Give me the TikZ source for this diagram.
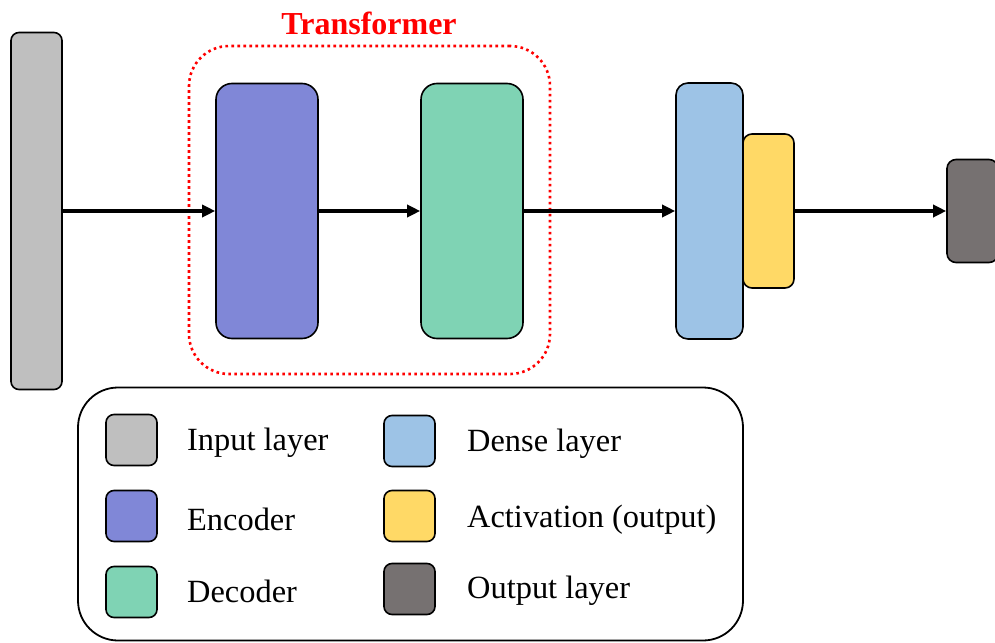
\documentclass[tikz,border=0pt]{standalone}
\usepackage{fontspec}
\setmainfont{Liberation Serif}
\usetikzlibrary{arrows.meta}
\definecolor{inputgray}{HTML}{BFBFBF}
\definecolor{encblue}{HTML}{8087D7}
\definecolor{decgreen}{HTML}{7FD3B4}
\definecolor{denseblue}{HTML}{9DC3E6}
\definecolor{actyellow}{HTML}{FFD966}
\definecolor{outgray}{HTML}{767171}
\tikzset{
  layerbox/.style={draw=black, line width=1.6pt, rounded corners=#1, inner sep=0pt},
  layerbox/.default=14pt,
  flow/.style={-{Triangle[length=13pt,width=12pt]}, line width=3.6pt},
  swatch/.style={draw=black, line width=1.6pt, rounded corners=8pt, minimum width=51pt, minimum height=51pt, inner sep=0pt},
  legtext/.style={anchor=west, inner sep=0pt, font=\fontsize{32.4}{36}\selectfont},
}
\begin{document}
\begin{tikzpicture}[x=1pt, y=-1pt]
\useasboundingbox (0,0) rectangle (995,642);

% Transformer group
\node[draw=red, line width=2.6pt, dash pattern=on 2.6pt off 3.4pt, rounded corners=40pt,
      minimum width=361pt, minimum height=328pt, inner sep=0pt] (tf) at (369.5,210) {};
\node[text=red, font=\bfseries\fontsize{32}{36}\selectfont] (tftitle) at (369,23) {Transformer};

% Layers
\node[layerbox=8pt, fill=inputgray, minimum width=51pt, minimum height=357pt] (inp) at (36.5,211) {};
\node[layerbox=16pt, fill=encblue, minimum width=102pt, minimum height=255pt] (enc) at (267,211) {};
\node[layerbox=16pt, fill=decgreen, minimum width=102pt, minimum height=255pt] (dec) at (472,211) {};
\node[layerbox=12pt, fill=denseblue, minimum width=67pt, minimum height=256pt] (dense) at (709.5,211) {};
\node[layerbox=9pt, fill=actyellow, minimum width=51pt, minimum height=154pt] (act) at (768.5,211) {};
\node[layerbox=9pt, fill=outgray, minimum width=51pt, minimum height=103pt] (outl) at (972.5,211) {};

% Data flow
\draw[flow] (inp) -- (enc);
\draw[flow] (enc) -- (dec);
\draw[flow] (dec) -- (dense);
\draw[flow] (act) -- (outl);

% Legend
\node[draw=black, line width=1.8pt, rounded corners=40pt, minimum width=665pt, minimum height=253pt, inner sep=0pt] (legend) at (410.5,514) {};

\node[swatch, fill=inputgray] (s1) at (131.5,440) {};
\node[swatch, fill=encblue] (s2) at (131.5,516) {};
\node[swatch, fill=decgreen] (s3) at (131.5,592) {};
\node[swatch, fill=denseblue] (s4) at (409.5,441) {};
\node[swatch, fill=actyellow] (s5) at (409.5,516) {};
\node[swatch, fill=outgray] (s6) at (409.5,589) {};

\node[legtext] (t1) at (187,443) {Input layer};
\node[legtext] (t2) at (187,519) {Encoder};
\node[legtext] (t3) at (187,591) {Decoder};
\node[legtext] (t4) at (467,444) {Dense layer};
\node[legtext] (t5) at (467,520) {Activation (output)};
\node[legtext] (t6) at (467,591) {Output layer};
\end{tikzpicture}
\end{document}
